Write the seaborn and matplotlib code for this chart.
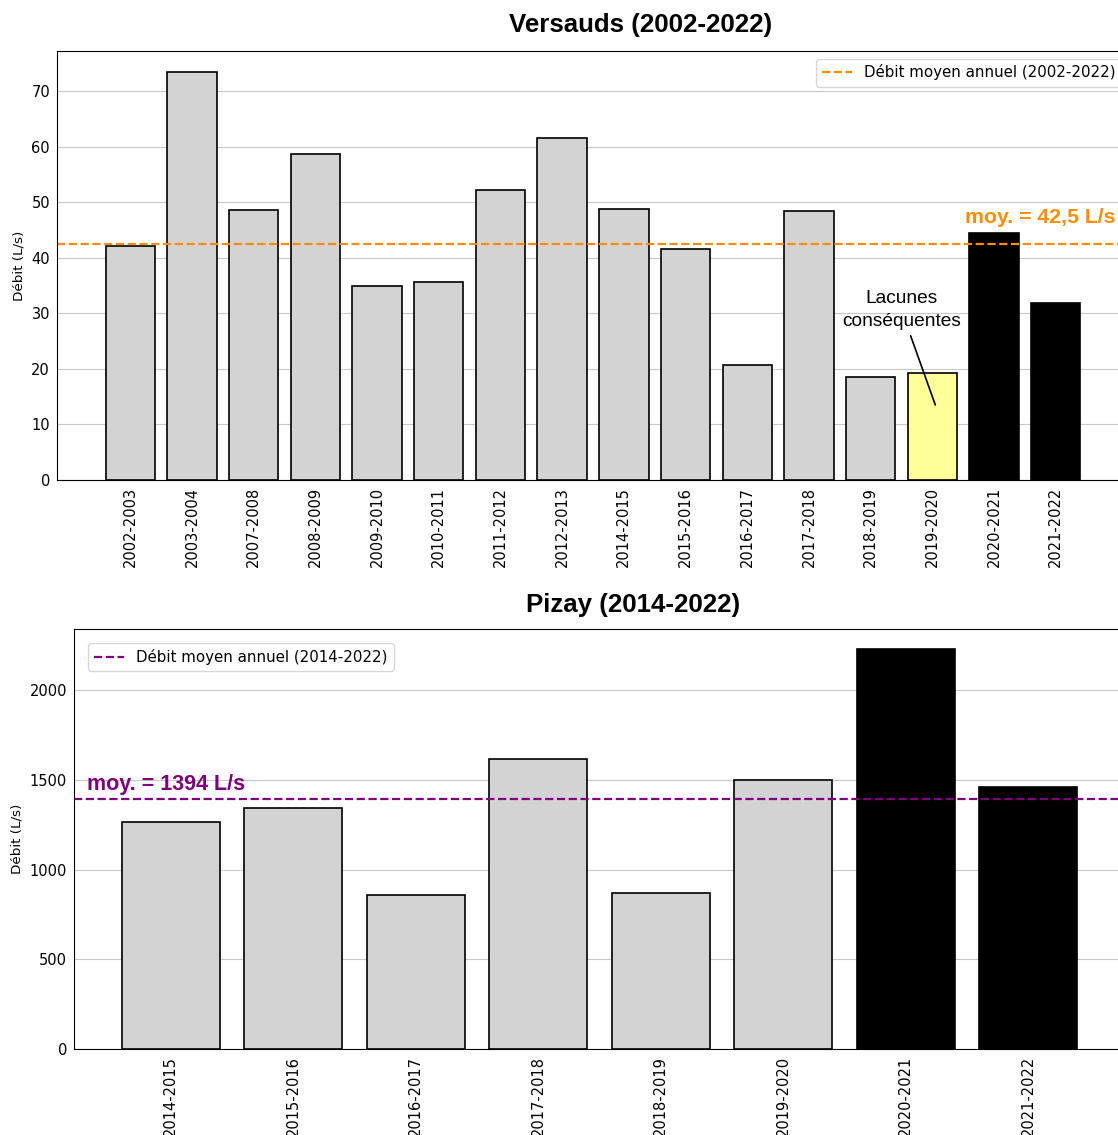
import numpy as np
import pandas as pd
import matplotlib
matplotlib.use("Agg")
import matplotlib.pyplot as plt
import seaborn as sns

# --- données ---
versauds_annees = ["2002-2003", "2003-2004", "2007-2008", "2008-2009", "2009-2010",
                   "2010-2011", "2011-2012", "2012-2013", "2014-2015", "2015-2016",
                   "2016-2017", "2017-2018", "2018-2019", "2019-2020", "2020-2021",
                   "2021-2022"]
versauds_debit = [42.1, 73.4, 48.6, 58.7, 34.9, 35.6, 52.2, 61.5, 48.8, 41.6,
                  20.7, 48.4, 18.5, 19.3, 44.4, 31.9]
versauds_moy = 42.5

pizay_annees = ["2014-2015", "2015-2016", "2016-2017", "2017-2018", "2018-2019",
                "2019-2020", "2020-2021", "2021-2022"]
pizay_debit = [1265, 1343, 858, 1616, 869, 1499, 2228, 1460]
pizay_moy = 1394

sns.set_style("whitegrid", {"axes.edgecolor": "black", "grid.color": "#c8c8c8",
                            "text.color": "black", "axes.labelcolor": "black",
                            "xtick.color": "black", "ytick.color": "black"})
plt.rcParams["font.family"] = ["DejaVu Sans"]

def couleurs(annees, lacune=None):
    c = []
    for a in annees:
        if a in ("2020-2021", "2021-2022"):
            c.append("black")
        elif a == lacune:
            c.append("#ffff99")
        else:
            c.append("lightgray")
    return c

fig = plt.figure(figsize=(11.18, 11.35), dpi=100)

# ========= Versauds =========
ax1 = fig.add_axes([57 / 1118, 1 - 480 / 1135, 1072 / 1118, 429 / 1135])
df1 = pd.DataFrame({"annee": versauds_annees, "debit": versauds_debit})
sns.barplot(data=df1, x="annee", y="debit", hue="annee",
            palette=couleurs(versauds_annees, "2019-2020"), legend=False,
            edgecolor="black", linewidth=1.2, width=0.8, saturation=1, ax=ax1)
ax1.axhline(versauds_moy, color="darkorange", ls="--", lw=1.6,
            label="Débit moyen annuel (2002-2022)")
ax1.text(15.97, versauds_moy + 3.0, "moy. = 42,5 L/s", color="darkorange",
         fontsize=15.3, fontweight="bold", family="Liberation Sans",
         ha="right", va="bottom")
ax1.annotate("Lacunes\nconséquentes", xy=(13.05, 13.5), xytext=(12.5, 30.6),
             ha="center", va="center", fontsize=13.8, family="Liberation Sans",
             linespacing=1.45,
             arrowprops=dict(arrowstyle="-", color="black", lw=1.2,
                             shrinkA=2, shrinkB=0))
ax1.set_xlim(-1.19, 16.19)
ax1.set_ylim(0, 77.2)
ax1.set_xlabel("")
ax1.set_ylabel("Débit (L/s)", fontsize=9.7)
ax1.grid(axis="x", visible=False)
ax1.tick_params(axis="x", rotation=90, labelsize=10.5, length=0, pad=5)
ax1.tick_params(axis="y", labelsize=10.5, length=0, pad=5)
ax1.legend(loc="upper right", fontsize=10.8)

# ========= Pizay =========
ax2 = fig.add_axes([74 / 1118, 1 - 1049 / 1135, 1051 / 1118, 420 / 1135])
df2 = pd.DataFrame({"annee": pizay_annees, "debit": pizay_debit})
sns.barplot(data=df2, x="annee", y="debit", hue="annee",
            palette=couleurs(pizay_annees), legend=False,
            edgecolor="black", linewidth=1.2, width=0.8, saturation=1, ax=ax2)
ax2.axhline(pizay_moy, color="purple", ls="--", lw=1.6,
            label="Débit moyen annuel (2014-2022)")
ax2.text(-0.685, pizay_moy + 22, "moy. = 1394 L/s", color="purple",
         fontsize=15.5, fontweight="bold", family="Liberation Sans",
         ha="left", va="bottom")
ax2.set_xlim(-0.79, 7.79)
ax2.set_ylim(0, 2340)
ax2.set_xlabel("")
ax2.set_ylabel("Débit (L/s)", fontsize=9.7)
ax2.grid(axis="x", visible=False)
ax2.tick_params(axis="x", rotation=90, labelsize=10.5, length=0, pad=5)
ax2.tick_params(axis="y", labelsize=10.5, length=0, pad=5)
ax2.legend(loc="upper left", fontsize=10.8, borderaxespad=0.95)

fig.text(641 / 1118, 1 - 25 / 1135, "Versauds (2002-2022)", ha="center", va="center",
         fontsize=18.6, fontweight="bold", family="Liberation Sans")
fig.text(633 / 1118, 1 - 605 / 1135, "Pizay (2014-2022)", ha="center", va="center",
         fontsize=18.6, fontweight="bold", family="Liberation Sans")

fig.savefig("out.png", dpi=100)
